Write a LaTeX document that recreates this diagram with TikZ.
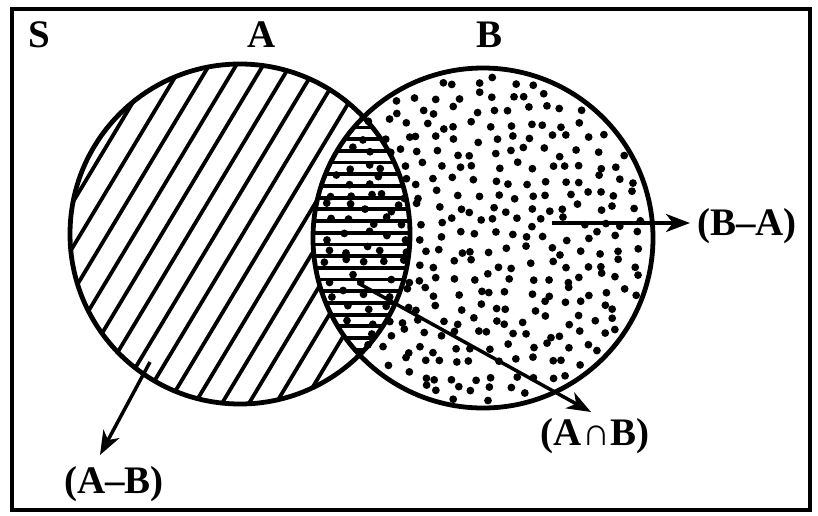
\documentclass[tikz,border=0pt]{standalone}
\usepackage{fontspec}
\setmainfont{Liberation Serif}
\usetikzlibrary{arrows.meta}
\begin{document}
\begin{tikzpicture}[x=1pt,y=-1pt,
  lbl/.style={font=\fontsize{39}{41}\selectfont\bfseries, inner sep=0pt, anchor=base},
  conn/.style={line width=3.5pt, -{Stealth[length=24pt,width=18pt,inset=7pt]}},
  ring/.style={line width=4.8pt},
  hatchline/.style={line width=3.8pt},
  dot/.style={fill=black}]
\useasboundingbox (0,0) rectangle (818,515);
\fill[white] (0,0) rectangle (818,515);
% universal set frame
\draw[line width=4.5pt] (12,9) rectangle (810,510);
% diagonal hatching in A
\begin{scope}
  \clip (240,234) circle (170pt);
  \foreach \k in {-12,...,10}
    \draw[hatchline] ({170+27*\k-154.5},657) -- ({170+27*\k+257.5},-28.5);
\end{scope}
% lens: white, horizontal lines
\begin{scope}
  \clip (240,234) circle (170pt);
  \fill[white] (483,238) circle (170pt);
  \clip (483,238) circle (170pt);
  \foreach \k in {0,...,24}
    \draw[hatchline] (300,{104+11.7*\k}) -- (425,{104+11.7*\k});
\end{scope}
% dots in B
\pgfmathsetseed{7}
\foreach \i in {0,...,19} {
  \foreach \j in {0,...,24} {
    \pgfmathsetmacro\px{313+\i*18+7*rand}
    \pgfmathsetmacro\py{68+\j*14+5*rand}
    \pgfmathparse{(((\px-483)/10)^2+((\py-238)/10)^2 < 270) ? 1 : 0}
    \ifnum\pgfmathresult=1 \fill[dot] (\px,\py) circle (3.9pt);\fi
  }
}
% circles
\draw[ring] (240,234) circle (170pt);
\draw[ring] (483,238) circle (170pt);
% labels
\node[lbl] (S) at (39,47) {S};
\node[lbl] (A) at (262,47) {A};
\node[lbl] (B) at (489,47) {B};
\node[lbl] (AmB) at (114,493) {(A–B)};
\node[lbl] (BmA) at (747,235) {(B–A)};
\node[lbl] (AnB) at (595,445) {(A∩B)};
% connectors
\coordinate (s1) at (150,362);
\coordinate (t1) at (100,455);
\coordinate (s2) at (552,223);
\coordinate (t2) at (690,223);
\coordinate (s3) at (358,283);
\coordinate (t3) at (591,412);
\draw[conn] (s1) -- (t1);
\draw[conn] (s2) -- (t2);
\draw[conn] (s3) -- (t3);
\end{tikzpicture}
\end{document}
